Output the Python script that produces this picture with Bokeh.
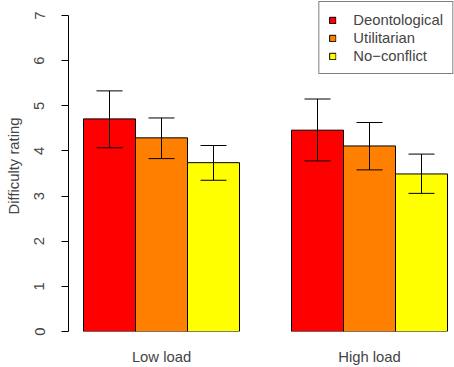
from bokeh.plotting import figure
from bokeh.models import Range1d, FixedTicker, Legend, LegendItem, ColumnDataSource
from bokeh.embed import file_html
from bokeh.resources import INLINE

# ---- data ----
groups = ["Low load", "High load"]
conditions = ["Deontological", "Utilitarian", "No\u2212conflict"]
colors = ["#FF0000", "#FF8000", "#FFFF00"]
mean_low = [4.71, 4.29, 3.74]
mean_high = [4.46, 4.11, 3.49]
lower_low = [4.07, 3.83, 3.35]
upper_low = [5.33, 4.73, 4.12]
lower_high = [3.78, 3.58, 3.06]
upper_high = [5.15, 4.63, 3.93]
y_ticks = [0, 1, 2, 3, 4, 5, 6, 7]

means = [mean_low, mean_high]
lowers = [lower_low, lower_high]
uppers = [upper_low, upper_high]

# ---- layout ----
W, H = 454, 367
FONT = "Liberation Sans"
FS = "14.8px"
LEFT, BOTTOM = 68, 36
frame_w, frame_h = W - LEFT, H - BOTTOM
px_x = 52.0            # pixels per bar
px_y = 316 / 7         # pixels per rating unit
x0 = 1 - 15 / px_x

p = figure(width=W, height=H, output_backend="svg", toolbar_location=None,
           x_range=Range1d(x0, x0 + frame_w / px_x),
           y_range=Range1d(0, frame_h / px_y),
           min_border_left=LEFT, min_border_right=0, min_border_top=0,
           min_border_bottom=BOTTOM)
p.xgrid.grid_line_color = None
p.ygrid.grid_line_color = None
p.outline_line_color = None
p.background_fill_color = "white"

items = []
for c, cond in enumerate(conditions):
    xs = [1 + 4 * g + c + 0.5 for g in range(len(groups))]
    tops = [means[g][c] for g in range(len(groups))]
    src = ColumnDataSource(dict(x=xs, top=tops))
    r = p.vbar(x="x", top="top", bottom=0, width=1, source=src,
               fill_color=colors[c], line_color="black", line_width=1)
    items.append(LegendItem(label=cond, renderers=[r]))
    lo = [lowers[g][c] for g in range(len(groups))]
    hi = [uppers[g][c] for g in range(len(groups))]
    p.segment(x0=xs, y0=lo, x1=xs, y1=hi, line_color="black", line_width=1)
    p.segment(x0=[x - 0.25 for x in xs], y0=hi, x1=[x + 0.25 for x in xs], y1=hi,
              line_color="black", line_width=1)
    p.segment(x0=[x - 0.25 for x in xs], y0=lo, x1=[x + 0.25 for x in xs], y1=lo,
              line_color="black", line_width=1)

legend = Legend(items=items, location="top_right", margin=1, padding=9, spacing=1,
                border_line_color="black", border_line_width=1,
                label_text_font=FONT, label_text_font_size=FS,
                glyph_width=8, glyph_height=8, label_standoff=17, label_height=17,
                background_fill_color="white", background_fill_alpha=1)
p.add_layout(legend)

# y axis
ya = p.yaxis[0]
ya.ticker = FixedTicker(ticks=y_ticks)
ya.bounds = (0, 7)
ya.major_label_orientation = "vertical"
ya.major_tick_out = 7
ya.major_tick_in = 0
ya.minor_tick_line_color = None
ya.major_label_standoff = 17
ya.axis_label = "Difficulty rating"
ya.axis_label_standoff = 10
ya.axis_label_text_font = FONT
ya.axis_label_text_font_size = FS
ya.axis_label_text_font_style = "normal"
ya.major_label_text_font = FONT
ya.major_label_text_font_size = FS
ya.axis_line_color = "black"
ya.major_tick_line_color = "black"

# x axis
xa = p.xaxis[0]
centers = [1 + 4 * g + len(conditions) / 2 for g in range(len(groups))]
xa.ticker = FixedTicker(ticks=centers)
xa.major_label_overrides = {ctr: g for ctr, g in zip(centers, groups)}
xa.axis_line_color = None
xa.major_tick_line_color = None
xa.minor_tick_line_color = None
xa.major_label_standoff = 11
xa.major_label_text_font = FONT
xa.major_label_text_font_size = FS

open("out.html", "w").write(file_html(p, INLINE))
